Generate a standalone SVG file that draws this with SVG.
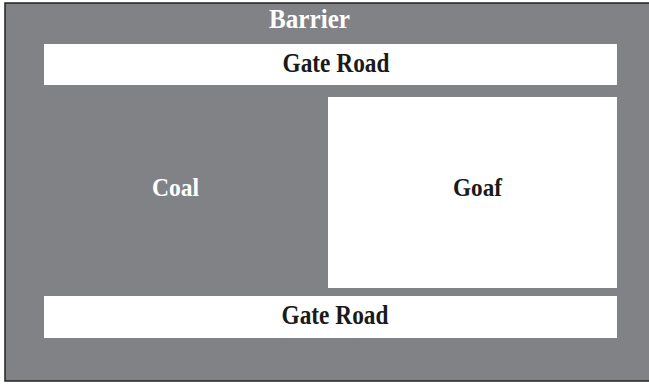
<svg xmlns="http://www.w3.org/2000/svg" width="649" height="384" viewBox="0 0 649 384">
<style>
.lbl{font-family:"Liberation Serif","Times New Roman",serif;font-weight:bold;text-anchor:middle}
.dark{fill:#1a1a1a}
.light{fill:#ffffff}
.area{fill:#ffffff}
</style>
<rect x="0" y="0" width="649" height="384" fill="#ffffff"/>
<g id="barrier">
<rect x="5" y="3" width="650" height="378" fill="#818286" stroke="#222222" stroke-width="1.5"/>
<text class="lbl light" x="309.5" y="28" font-size="27" textLength="81" lengthAdjust="spacingAndGlyphs">Barrier</text>
</g>
<g id="gate-road-top">
<rect class="area" x="44" y="44" width="573" height="41"/>
<text class="lbl dark" x="336" y="72" font-size="28" textLength="107" lengthAdjust="spacingAndGlyphs">Gate Road</text>
</g>
<g id="coal">
<text class="lbl light" x="175.5" y="196" font-size="26" textLength="47" lengthAdjust="spacingAndGlyphs">Coal</text>
</g>
<g id="goaf">
<rect class="area" x="328" y="97" width="289" height="191"/>
<text class="lbl dark" x="477.5" y="196" font-size="26" textLength="49" lengthAdjust="spacingAndGlyphs">Goaf</text>
</g>
<g id="gate-road-bottom">
<rect class="area" x="44" y="296" width="573" height="42"/>
<text class="lbl dark" x="335" y="324" font-size="28" textLength="107" lengthAdjust="spacingAndGlyphs">Gate Road</text>
</g>
<g id="connectors"/>
</svg>
